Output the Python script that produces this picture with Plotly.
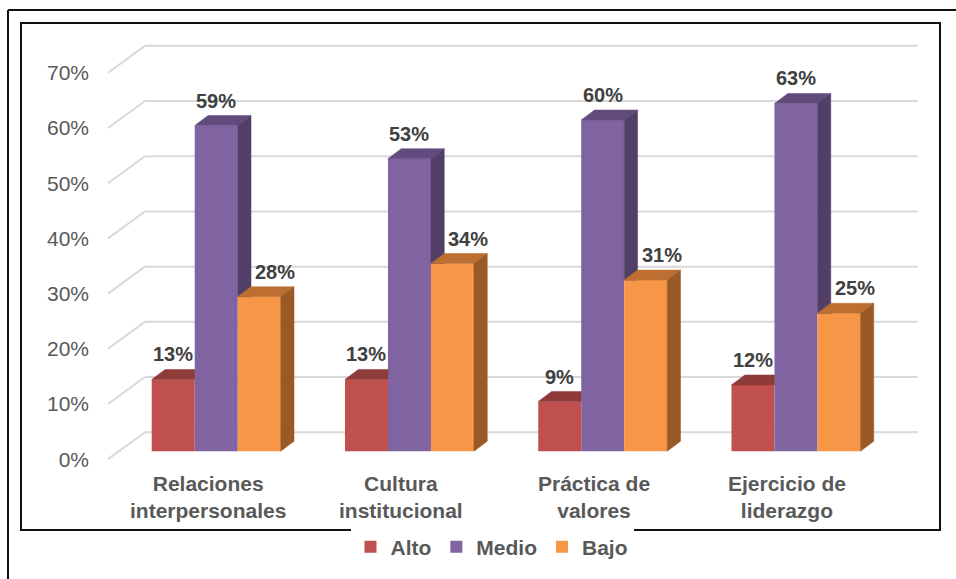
import plotly.graph_objects as go

# ---- data -------------------------------------------------------------
categories = ["Relaciones<br>interpersonales", "Cultura<br>institucional",
              "Práctica de<br>valores", "Ejercicio de<br>liderazgo"]
series_names = ["Alto", "Medio", "Bajo"]
alto = [0.13, 0.13, 0.09, 0.12]
medio = [0.59, 0.53, 0.60, 0.63]
bajo = [0.28, 0.34, 0.31, 0.25]
tick_values = [0.0, 0.1, 0.2, 0.3, 0.4, 0.5, 0.6, 0.7]

# ---- styling ----------------------------------------------------------
front_colors = ["#C0504D", "#8064A2", "#F79646"]
top_colors = ["#8E3B39", "#614C7D", "#BC6F31"]
side_colors = ["#7A3230", "#513F68", "#9A5A26"]
label_xshift = [0, 0, 16]   # Bajo labels sit clear of the Medio side face
GRID = "#D9D9D9"
TXT = "#595959"
LBL = "#404040"
FONT = "Liberation Sans, Arial, sans-serif"

# ---- layout geometry (pixels) ------------------------------------------
W, H = 956, 579
ML, MR, MT, MB = 100, 20, 20, 20
PW, PH = W - ML - MR, H - MT - MB
PX_X = 193.25          # pixels per category
PX_Y = 553.0           # pixels per 100 %
FLOOR_FRONT_PX = 108   # left end of the floor front edge
BAR_BASE_PX = 452      # baseline of the bar fronts
AXIS_BASE_PX = 460     # baseline of the front (labelled) axis

x0 = -0.5 - (FLOOR_FRONT_PX - ML) / PX_X
x1 = x0 + PW / PX_X
yb0 = -(H - MB - BAR_BASE_PX) / PX_Y
yb1 = yb0 + PH / PX_Y
ya0 = -(H - MB - AXIS_BASE_PX) / PX_Y
ya1 = ya0 + PH / PX_Y

# 3-D offsets
WALL_DX, WALL_DY = 37 / PX_X, 27 / PX_Y   # floor front -> back wall
BAR_DX, BAR_DY = 13.3 / PX_X, 10 / PX_Y   # bar depth
BAR_W = 43 / PX_X
offsets = [-0.1625, 0.0600, 0.2825]       # bar centres relative to category


def clip(poly, axis, c, keep_ge):
    """Sutherland-Hodgman clip of a polygon against one half-plane."""
    def inside(p):
        return p[axis] >= c if keep_ge else p[axis] <= c

    out = []
    n = len(poly)
    for i in range(n):
        a, b = poly[i], poly[(i + 1) % n]
        ia, ib = inside(a), inside(b)
        if ia:
            out.append(a)
        if ia != ib:
            t = (c - a[axis]) / (b[axis] - a[axis])
            out.append((a[0] + t * (b[0] - a[0]), a[1] + t * (b[1] - a[1])))
    return out


def area(poly):
    s = 0.0
    for i in range(len(poly)):
        a, b = poly[i], poly[(i + 1) % len(poly)]
        s += a[0] * b[1] - b[0] * a[1]
    return abs(s) / 2


def visible(poly, right_edge, next_val):
    """Part of a face not hidden by the neighbouring bar's front."""
    if next_val is None:
        return [poly]
    parts = [clip(poly, 0, right_edge, False),
             clip(clip(poly, 0, right_edge, True), 1, next_val, True)]
    return [p for p in parts if len(p) >= 3 and area(p) > 1e-9]


def to_xy(polys):
    xs, ys = [], []
    for p in polys:
        xs += [q[0] for q in p] + [p[0][0], None]
        ys += [q[1] for q in p] + [p[0][1], None]
    return xs, ys


values = [alto, medio, bajo]
xpos = list(range(len(categories)))

fig = go.Figure()

# front faces
for s, name in enumerate(series_names):
    fig.add_trace(go.Bar(
        x=xpos, y=values[s], name=name, width=BAR_W,
        offset=offsets[s] - BAR_W / 2,
        marker=dict(color=front_colors[s], line=dict(width=0)),
        hoverinfo="skip",
    ))

# top and side faces, drawn left to right so nearer faces overlap correctly
for s in range(len(series_names)):
    tops, sides = [], []
    for i in xpos:
        v = values[s][i]
        L = i + offsets[s] - BAR_W / 2
        R = L + BAR_W
        nxt = values[s + 1][i] if s + 1 < len(series_names) else None
        top = [(L, v), (R, v), (R + BAR_DX, v + BAR_DY), (L + BAR_DX, v + BAR_DY)]
        side = [(R, 0), (R, v), (R + BAR_DX, v + BAR_DY), (R + BAR_DX, BAR_DY)]
        tops += visible(top, R, nxt)
        sides += visible(side, R, nxt)
    for polys, col in ((tops, top_colors[s]), (sides, side_colors[s])):
        xs, ys = to_xy(polys)
        fig.add_trace(go.Scatter(
            x=xs, y=ys, mode="lines", fill="toself", fillcolor=col,
            line=dict(color=col, width=0.5), showlegend=False,
            hoverinfo="skip",
        ))

# carrier for the labelled front axis
fig.add_trace(go.Scatter(x=[], y=[], yaxis="y2", showlegend=False,
                         hoverinfo="skip"))

shapes = []
# back wall gridlines and their diagonals to the front axis
for t in tick_values:
    shapes.append(dict(type="line", xref="x", yref="y2", layer="below",
                       x0=-0.5, y0=t, x1=-0.5 + WALL_DX, y1=t + WALL_DY,
                       line=dict(color=GRID, width=2)))
    shapes.append(dict(type="line", xref="x", yref="y2", layer="below",
                       x0=-0.5 + WALL_DX, y0=t + WALL_DY,
                       x1=len(categories) - 0.5 + WALL_DX, y1=t + WALL_DY,
                       line=dict(color=GRID, width=2)))


def fx(px):
    return (px - ML) / PW


def fy(py):
    return (H - MB - py) / PH


# chart frames
shapes.append(dict(type="rect", xref="paper", yref="paper",
                   x0=fx(21), y0=fy(531), x1=fx(940), y1=fy(23),
                   line=dict(color="#111111", width=2)))
shapes.append(dict(type="line", xref="paper", yref="paper",
                   x0=fx(8), y0=fy(10), x1=fx(957), y1=fy(10),
                   line=dict(color="#111111", width=2)))
shapes.append(dict(type="line", xref="paper", yref="paper",
                   x0=fx(8), y0=fy(10), x1=fx(8), y1=fy(580),
                   line=dict(color="#111111", width=2)))

annotations = []
# value labels
for s in range(len(series_names)):
    for i in xpos:
        v = values[s][i]
        annotations.append(dict(
            x=i + offsets[s], y=v, xref="x", yref="y", text=f"{v:.0%}",
            showarrow=False, yanchor="middle", yshift=25,
            xshift=label_xshift[s],
            font=dict(family=FONT, size=20, color=LBL, weight="bold"),
        ))
# category labels
for i, c in enumerate(categories):
    annotations.append(dict(
        x=i, y=-(498 - BAR_BASE_PX) / PX_Y, xref="x", yref="y", text=c,
        showarrow=False, yanchor="middle", xshift=3,
        font=dict(family=FONT, size=21, color=TXT, weight="bold"),
    ))

fig.update_layout(
    width=W, height=H,
    margin=dict(l=ML, r=MR, t=MT, b=MB),
    paper_bgcolor="white", plot_bgcolor="white",
    barmode="overlay",
    showlegend=True,
    legend=dict(orientation="h", x=fx(492), xanchor="center",
                y=fy(547), yanchor="middle",
                font=dict(family=FONT, size=21, color=TXT, weight="bold"),
                itemclick=False, itemdoubleclick=False),
    xaxis=dict(range=[x0, x1], visible=False, fixedrange=True),
    yaxis=dict(range=[yb0, yb1], visible=False, fixedrange=True),
    yaxis2=dict(range=[ya0, ya1], overlaying="y", side="left",
                tickvals=tick_values, tickformat=".0%",
                showgrid=False, zeroline=False, showline=False, ticks="",
                ticklabelstandoff=10,
                tickfont=dict(family=FONT, size=21, color=TXT),
                fixedrange=True),
    shapes=shapes,
    annotations=annotations,
)

fig.write_html("out.html")
